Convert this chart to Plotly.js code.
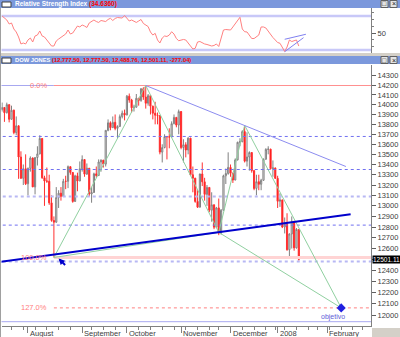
<!DOCTYPE html>
<html><head><meta charset="utf-8">
<script src="https://cdn.plot.ly/plotly-3.0.1.min.js"></script>
<style>html,body{margin:0;padding:0;background:#fff;}#chart{width:400px;height:337px;}</style>
</head><body><div id="chart"></div>
<script>
const dates = ['2007-07-17','2007-07-18','2007-07-19','2007-07-20','2007-07-23','2007-07-24','2007-07-25','2007-07-26','2007-07-27','2007-07-30','2007-07-31',
'2007-08-01','2007-08-02','2007-08-03','2007-08-06','2007-08-07','2007-08-08','2007-08-09','2007-08-10','2007-08-13','2007-08-14','2007-08-15','2007-08-16','2007-08-17','2007-08-20','2007-08-21','2007-08-22','2007-08-23','2007-08-24','2007-08-27','2007-08-28','2007-08-29','2007-08-30','2007-08-31',
'2007-09-04','2007-09-05','2007-09-06','2007-09-07','2007-09-10','2007-09-11','2007-09-12','2007-09-13','2007-09-14','2007-09-17','2007-09-18','2007-09-19','2007-09-20','2007-09-21','2007-09-24','2007-09-25','2007-09-26','2007-09-27','2007-09-28',
'2007-10-01','2007-10-02','2007-10-03','2007-10-04','2007-10-05','2007-10-08','2007-10-09','2007-10-10','2007-10-11','2007-10-12','2007-10-15','2007-10-16','2007-10-17','2007-10-18','2007-10-19','2007-10-22','2007-10-23','2007-10-24','2007-10-25','2007-10-26','2007-10-29','2007-10-30','2007-10-31',
'2007-11-01','2007-11-02','2007-11-05','2007-11-06','2007-11-07','2007-11-08','2007-11-09','2007-11-12','2007-11-13','2007-11-14','2007-11-15','2007-11-16','2007-11-19','2007-11-20','2007-11-21','2007-11-23','2007-11-26','2007-11-27','2007-11-28','2007-11-29','2007-11-30',
'2007-12-03','2007-12-04','2007-12-05','2007-12-06','2007-12-07','2007-12-10','2007-12-11','2007-12-12','2007-12-13','2007-12-14','2007-12-17','2007-12-18','2007-12-19','2007-12-20','2007-12-21','2007-12-24','2007-12-26','2007-12-27','2007-12-28','2007-12-31',
'2008-01-02','2008-01-03','2008-01-04','2008-01-07','2008-01-08','2008-01-09','2008-01-10','2008-01-11','2008-01-14','2008-01-15'];
const openP = [13950.98,13971.55,13918.22,14000.41,13851.08,13943.42,13716.95,13785.07,13473.57,13265.47,13358.31,
13211.99,13362.37,13463.33,13181.91,13468.78,13504.30,13657.86,13270.68,13239.54,13236.53,13028.92,12861.47,12845.78,13079.08,13121.35,13090.86,13236.13,13235.88,13378.87,13322.13,13041.85,13289.29,13238.73,
13357.74,13448.86,13305.47,13363.35,13113.38,13127.85,13308.39,13291.65,13424.88,13442.52,13403.42,13739.39,13815.56,13766.70,13820.19,13759.06,13778.65,13878.15,13912.94,
13895.63,14087.55,14047.31,13968.05,13974.31,14066.01,14043.73,14164.53,14078.69,14015.12,14093.08,13984.80,13912.94,13892.54,13888.96,13522.02,13566.97,13676.23,13675.25,13671.92,13806.70,13870.26,13792.47,
13930.01,13567.87,13595.10,13543.40,13660.94,13300.02,13266.29,13042.74,12987.55,13307.09,13231.01,13110.05,13176.79,12958.44,13010.14,12799.04,12980.88,12743.44,12958.44,13289.45,13311.73,
13371.72,13314.57,13248.73,13444.96,13619.89,13625.58,13727.03,13432.77,13473.90,13517.96,13339.85,13167.20,13232.47,13207.27,13245.64,13450.65,13549.33,13551.69,13359.61,13365.87,
13264.82,13043.96,13056.72,12800.18,12827.49,12589.07,12735.31,12853.09,12606.30,12777.50];
const highP = [14022,13975,14021,14005,13990,13950,13880,13790,13530,13400,13500,
13370,13480,13470,13470,13580,13690,13660,13290,13370,13300,13100,12900,13180,13150,13180,13260,13290,13390,13380,13325,13300,13320,13430,
13490,13450,13410,13365,13180,13320,13380,13450,13450,13445,13740,13850,13830,13880,13900,13790,13900,13940,13950,
14100,14115,14060,14000,14110,14070,14170,14180,14198.10,14110,14100,13990,14030,13920,13890,13600,13700,13680,13760,13830,13900,13875,13950,
13935,13650,13620,13670,13665,13380,13270,13150,13310,13420,13270,13200,13180,13130,13012,12990,13070,12970,13300,13360,13520,
13400,13320,13460,13625,13660,13740,13780,13720,13530,13520,13345,13300,13300,13260,13460,13560,13580,13555,13440,13370,
13290,13120,13060,12890,12930,12740,12900,12855,12790,12777.50];
const lowP = [13930,13825,13910,13820,13850,13700,13690,13260,13260,13200,13200,
13100,13330,13180,13110,13390,13500,13260,13000,13220,13010,12850,12517.94,12840,12980,13050,13090,13160,13170,13300,13030,13040,13140,13238,
13330,13280,13300,13090,13030,13125,13270,13290,13330,13370,13380,13730,13740,13765,13740,13660,13775,13860,13840,
13890,14020,13920,13930,13970,13990,14030,14050,13960,13990,13900,13850,13800,13800,13500,13420,13560,13450,13560,13670,13800,13770,13700,
13550,13420,13470,13500,13290,13130,13030,12980,12985,13190,13050,13000,12940,12850,12780,12795,12724,12730,12955,13210,13300,
13280,13220,13245,13440,13580,13620,13420,13380,13340,13320,13150,13100,13150,13150,13240,13450,13500,13350,13280,13260,
12980,12990,12790,12740,12580,12510,12600,12580,12600,12488.76];
const closeP = [13971.55,13918.22,14000.41,13851.08,13943.42,13716.95,13785.07,13473.57,13265.47,13358.31,13211.99,
13362.37,13463.33,13181.91,13468.78,13504.30,13657.86,13270.68,13239.54,13236.53,13028.92,12861.47,12845.78,13079.08,13121.35,13090.86,13236.13,13235.88,13378.87,13322.13,13041.85,13289.29,13238.73,13357.74,
13448.86,13305.47,13363.35,13113.38,13127.85,13308.39,13291.65,13424.88,13442.52,13403.42,13739.39,13815.56,13766.70,13820.19,13759.06,13778.65,13878.15,13912.94,13895.63,
14087.55,14047.31,13968.05,13974.31,14066.01,14043.73,14164.53,14078.69,14015.12,14093.08,13984.80,13912.94,13892.54,13888.96,13522.02,13566.97,13676.23,13675.25,13671.92,13806.70,13870.26,13792.47,13930.01,
13567.87,13595.10,13543.40,13660.94,13300.02,13266.29,13042.74,12987.55,13307.09,13231.01,13110.05,13176.79,12958.44,13010.14,12799.04,12980.88,12743.44,12958.44,13289.45,13311.73,13371.72,
13314.57,13248.73,13444.96,13619.89,13625.58,13727.03,13432.77,13473.90,13517.96,13339.85,13167.20,13232.47,13207.27,13245.64,13450.65,13549.33,13551.69,13359.61,13365.87,13264.82,
13043.96,13056.72,12800.18,12827.49,12589.07,12735.31,12853.09,12606.30,12778.15,12501.11];
const rsiValues = [70.0,67.6,65.3,60.6,61.8,54.7,51.2,45.3,37.1,38.2,37.1,
41.8,44.1,39.4,46.5,47.6,52.4,46.5,45.3,41.8,38.2,34.7,34.7,40.6,42.9,44.7,46.5,48.8,53.5,48.8,50.0,54.7,58.2,57.1,
59.4,58.2,56.5,61.8,63.5,65.3,63.5,62.4,64.7,64.1,63.5,65.9,67.3,64.7,67.1,68.2,67.6,67.6,70.6,
67.6,64.1,65.3,63.5,62.4,64.1,65.9,61.2,59.4,57.6,51.2,47.6,49.6,41.8,38.2,44.1,46.5,45.9,47.6,51.5,48.8,43.5,40.9,
41.8,42.4,41.8,38.2,33.5,31.2,32.0,39.4,40.0,38.2,37.1,36.5,35.3,34.7,35.3,37.1,34.1,44.1,53.5,54.1,54.1,
53.5,57.1,60.6,64.1,68.5,54.7,51.5,51.2,46.5,43.5,43.5,45.3,47.6,57.1,57.1,55.9,51.8,47.6,44.7,41.8,
38.8,37.9,33.5,28.2,33.5,41.8,40.0,40.6,41.8,34.6];
const rsiLevels = [70, 30];
const rsiWedgeDates = [['2008-01-07','2008-01-18'], ['2008-01-07','2008-01-17']];
const rsiWedgeValues = [[42.6,48.5], [28.0,44.5]];

const fibLevels = [14198.10, 12517.94, 12064];
const fibLabels = ['0.0%', '100.0%', '127.0%'];
const blueLevels = [13678, 13351, 13090, 12818, 12481];
const waveDates = ['2007-08-16','2007-10-11','2007-11-26','2007-12-11','2008-02-11'];
const waveValues = [12517.94, 14198.10, 12750, 13790, 12064];
const supportDates = ['2007-07-16','2008-02-15'];
const supportValues = [12478, 12921];
const resistDates = ['2007-10-11','2008-02-13'];
const resistValues = [14198.10, 13380];
const targetLabel = 'objetivo';
const priceTicks = [12000,12100,12200,12300,12400,12500,12600,12700,12800,12900,13000,13100,13200,13300,13400,13500,13600,13700,13800,13900,14000,14100,14200,14300];
const priceTickText = ['12000','12100','12200','12300','12400','','12600','12700','12800','12900','13000','13100','13200','13300','13400','13500','13600','13700','13800','13900','14000','14100','14200','14300'];
const monthDates = ['2007-08-01','2007-09-04','2007-10-01','2007-11-01','2007-12-03','2008-01-02','2008-02-01'];
const monthLabels = ['August','September','October','November','December','2008','February'];
const lastClose = '12501.11';
const rsiTitle = 'Relative Strength Index';
const rsiValueText = '(34.6360)';
const priceTitle = 'DOW JONES';
const priceValueText = '(12,777.50, 12,777.50, 12,488.76, 12,501.11, -277.04)';

const W = 400, H = 337;
const px = x => x / W, py = y => 1 - y / H;
const lg = Math.log10;
const FONT = 'Liberation Sans, Arial, sans-serif';
const LEFT = '2007-07-02', RIGHT = '2008-03-03';
const rb = [{bounds: ['sat', 'mon']}, {values: ['2007-09-03','2007-11-22','2007-12-25','2008-01-01','2008-01-21','2008-02-18']}];

const traces = [];
blueLevels.forEach((v, i) => traces.push({x: [LEFT, RIGHT], y: [v, v], mode: 'lines', xaxis: 'x', yaxis: 'y', hoverinfo: 'skip',
  line: {color: (i === 2 || i === 4) ? '#b8b8f4' : '#7070f0', width: (i === 2 || i === 4) ? 2 : 1, dash: 'dot'}}));
traces.push({x: [LEFT, waveDates[0]], y: [fibLevels[0], fibLevels[0]], mode: 'lines', line: {color: '#a8a8f0', width: 1}, hoverinfo: 'skip'});
traces.push({x: [waveDates[0], RIGHT], y: [fibLevels[0], fibLevels[0]], mode: 'lines', line: {color: '#ff9090', width: 1}, hoverinfo: 'skip'});
traces.push({x: [waveDates[0], RIGHT], y: [fibLevels[1], fibLevels[1]], mode: 'lines', line: {color: '#ffd4d4', width: 3}, hoverinfo: 'skip'});
traces.push({x: [waveDates[0], RIGHT], y: [fibLevels[2], fibLevels[2]], mode: 'lines', line: {color: '#ff8080', width: 1, dash: 'dot'}, hoverinfo: 'skip'});
traces.push({type: 'candlestick', x: dates, open: openP, high: highP, low: lowP, close: closeP, xaxis: 'x', yaxis: 'y',
  increasing: {line: {color: '#808080', width: 1}, fillcolor: '#ffffff'},
  decreasing: {line: {color: '#ff3030', width: 1}, fillcolor: '#ff0000'}, whiskerwidth: 0, hoverinfo: 'skip'});
const seg = (a, b) => ({x: [waveDates[a], waveDates[b]], y: [waveValues[a], waveValues[b]], mode: 'lines', line: {color: '#90d0a0', width: 1}, hoverinfo: 'skip'});
[[0,1],[1,2],[2,3],[3,4],[0,2],[2,4]].forEach(p => traces.push(seg(p[0], p[1])));
traces.push({x: supportDates, y: supportValues, mode: 'lines', line: {color: '#0000cc', width: 2}, hoverinfo: 'skip'});
traces.push({x: resistDates, y: resistValues, mode: 'lines', line: {color: '#8c8cf0', width: 1}, hoverinfo: 'skip'});
traces.push({x: [waveDates[4]], y: [waveValues[4]], mode: 'markers', marker: {symbol: 'diamond', size: 7, color: '#2020e0'}, hoverinfo: 'skip'});
rsiLevels.forEach(v => traces.push({x: [LEFT, RIGHT], y: [v, v], mode: 'lines', xaxis: 'x2', yaxis: 'y2', line: {color: '#c8c8f8', width: 2.5}, hoverinfo: 'skip'}));
traces.push({x: dates, y: rsiValues, mode: 'lines', xaxis: 'x2', yaxis: 'y2', line: {color: '#ff8080', width: 1}, hoverinfo: 'skip'});
rsiWedgeDates.forEach((d, i) => traces.push({x: d, y: rsiWedgeValues[i], mode: 'lines', xaxis: 'x2', yaxis: 'y2', line: {color: '#8080f0', width: 1}, hoverinfo: 'skip'}));

const xr = ['2007-07-16 18:00', '2008-02-28 15:36'];
const annotations = [];
fibLabels.forEach((t, i) => annotations.push({xref: 'paper', yref: 'y', x: px(49), y: lg(fibLevels[i]), xanchor: 'right', yanchor: 'middle',
  text: t, showarrow: false, font: {family: FONT, size: 7.5, color: '#ff8080'}}));
monthDates.forEach((d, i) => annotations.push({xref: 'x', yref: 'paper', x: d, y: py(333), xanchor: 'left', yanchor: 'middle',
  text: monthLabels[i], showarrow: false, font: {family: FONT, size: 7.5, color: '#404040'}}));
annotations.push({xref: 'x', yref: 'y', x: waveDates[4], y: lg(waveValues[4]), xshift: -8, yshift: -9, xanchor: 'center', yanchor: 'middle',
  text: targetLabel, showarrow: false, font: {family: FONT, size: 7, color: '#6060d8'}});
annotations.push({xref: 'x', yref: 'y', x: '2007-08-20', y: lg(12508), ax: 8, ay: 8, text: '', showarrow: true, arrowhead: 2, arrowsize: 0.6, arrowwidth: 2, arrowcolor: '#0000cc'});
annotations.push({xref: 'paper', yref: 'y', x: px(372), y: lg(12501.11), xanchor: 'left', yanchor: 'middle', text: lastClose, showarrow: false,
  bgcolor: '#000000', borderpad: 0, font: {family: FONT, size: 6.5, color: '#ffffff'}});
annotations.push({xref: 'paper', yref: 'paper', x: px(13), y: py(4), xanchor: 'left', yanchor: 'middle', showarrow: false,
  text: '<b>' + rsiTitle + '</b> <b><span style="color:#ff0000">' + rsiValueText + '</span></b>', font: {family: FONT, size: 6.5, color: '#ffffff'}});
annotations.push({xref: 'paper', yref: 'paper', x: px(13), y: py(60), xanchor: 'left', yanchor: 'middle', showarrow: false,
  text: '<b>' + priceTitle + '</b> <b><span style="color:#ff0000">' + priceValueText + '</span></b>', font: {family: FONT, size: 5.8, color: '#ffffff'}});
[[384.5, 4], [393.5, 4], [384.5, 60], [393.5, 60]].forEach((p, i) => annotations.push({xref: 'paper', yref: 'paper', x: px(p[0]), y: py(p[1]),
  xanchor: 'center', yanchor: 'middle', showarrow: false, text: (i % 2) ? '×' : '□', font: {family: FONT, size: 7, color: '#202020'}}));

const shapes = [
  {type: 'rect', xref: 'paper', yref: 'paper', x0: 0, x1: 1, y0: py(56), y1: py(53), fillcolor: '#d4d0c8', line: {width: 0}, layer: 'below'},
  {type: 'rect', xref: 'paper', yref: 'paper', x0: 0, x1: 1, y0: py(8), y1: 1, fillcolor: '#7b98dc', line: {width: 0}},
  {type: 'rect', xref: 'paper', yref: 'paper', x0: 0, x1: 1, y0: py(64), y1: py(56), fillcolor: '#7b98dc', line: {width: 0}},
  {type: 'rect', xref: 'paper', yref: 'paper', x0: px(2), x1: px(11), y0: py(7), y1: py(2), fillcolor: '#ffffff', line: {width: 1, color: '#404040'}},
  {type: 'rect', xref: 'paper', yref: 'paper', x0: px(2), x1: px(11), y0: py(63), y1: py(58), fillcolor: '#ffffff', line: {width: 1, color: '#404040'}},
  {type: 'rect', xref: 'paper', yref: 'paper', x0: px(381), x1: px(388), y0: py(7.5), y1: py(0.5), fillcolor: '#e4e4e4', line: {width: 1, color: '#606060'}},
  {type: 'rect', xref: 'paper', yref: 'paper', x0: px(390), x1: px(397), y0: py(7.5), y1: py(0.5), fillcolor: '#e4e4e4', line: {width: 1, color: '#606060'}},
  {type: 'rect', xref: 'paper', yref: 'paper', x0: px(381), x1: px(388), y0: py(63.5), y1: py(56.5), fillcolor: '#e4e4e4', line: {width: 1, color: '#606060'}},
  {type: 'rect', xref: 'paper', yref: 'paper', x0: px(390), x1: px(397), y0: py(63.5), y1: py(56.5), fillcolor: '#e4e4e4', line: {width: 1, color: '#606060'}},
  {type: 'line', xref: 'paper', yref: 'paper', x0: px(0.5), x1: px(0.5), y0: 0, y1: py(8), line: {width: 1, color: '#a0a0a0'}},
  {type: 'line', xref: 'paper', yref: 'paper', x0: px(1.5), x1: px(371), y0: py(321.7), y1: py(321.7), line: {width: 1, color: '#a8a8f0'}},
  {type: 'rect', xref: 'paper', yref: 'paper', x0: px(372), x1: 1, y0: 0, y1: py(328), fillcolor: '#d4d0c8', line: {width: 0}}
];

const layout = {
  width: W, height: H, margin: {l: 0, r: 0, t: 0, b: 0}, paper_bgcolor: '#ffffff', plot_bgcolor: '#ffffff',
  showlegend: false, hovermode: false,
  xaxis: {type: 'date', domain: [px(1.5), px(371)], anchor: 'y', range: xr, rangebreaks: rb, rangeslider: {visible: false},
    showgrid: false, zeroline: false, showline: true, linecolor: '#808080',
    tickvals: monthDates, showticklabels: false, ticks: 'outside', ticklen: 6, tickcolor: '#808080',
    minor: {ticks: 'outside', ticklen: 3, tickcolor: '#808080', dtick: 7 * 86400000, tick0: '2007-07-16', showgrid: false}},
  yaxis: {type: 'log', domain: [py(326), py(65)], anchor: 'x', range: [lg(11905), lg(14413)], side: 'right',
    tickvals: priceTicks, ticktext: priceTickText, ticks: 'outside', ticklen: 4, tickcolor: '#606060',
    showline: true, linecolor: '#808080', showgrid: false, zeroline: false,
    tickfont: {family: FONT, size: 7.5, color: '#404040'}},
  xaxis2: {type: 'date', domain: [px(1.5), px(371)], anchor: 'y2', matches: 'x', range: xr, rangebreaks: rb,
    showgrid: false, zeroline: false, showline: false, showticklabels: false, ticks: ''},
  yaxis2: {domain: [py(53), py(8)], anchor: 'x2', range: [26.47, 79.41], side: 'right',
    tickvals: [50], ticktext: ['50'], ticks: 'outside', ticklen: 4, tickcolor: '#606060',
    minor: {ticks: 'outside', ticklen: 2, dtick: 8, tick0: 2, tickcolor: '#808080'},
    showline: true, linecolor: '#808080', showgrid: false, zeroline: false,
    tickfont: {family: FONT, size: 7.5, color: '#404040'}},
  shapes: shapes, annotations: annotations
};
Plotly.newPlot('chart', traces, layout, {staticPlot: true, displayModeBar: false});
</script></body></html>
